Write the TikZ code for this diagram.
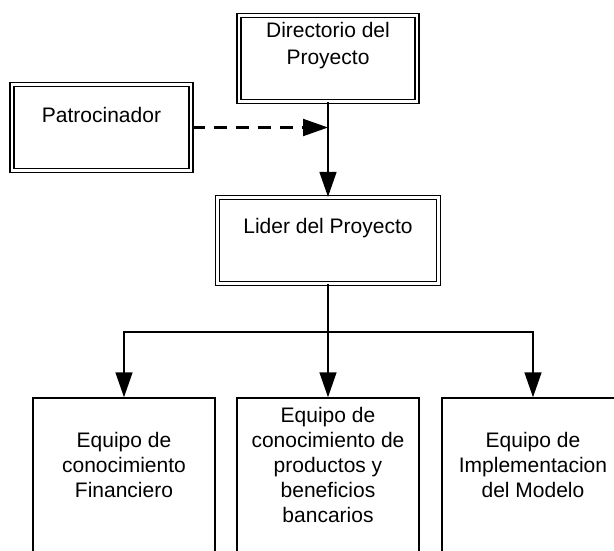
\documentclass[tikz,border=0pt]{standalone}
\usepackage{fontspec}
\setmainfont{Liberation Sans}
\usetikzlibrary{arrows.meta,positioning,calc}
\tikzset{
  mainbox/.style={draw=black,line width=1.3pt,double=white,double distance=2.7pt,
    minimum height=86pt,inner sep=0pt},
  teambox/.style={draw=black,fill=white,line width=1.5pt,minimum width=182pt,
    minimum height=158pt,inner sep=0pt},
  boxtext/.style={font=\fontsize{21}{25}\selectfont,align=center,yshift=12.5pt},
  flowarrow/.style={-{Triangle[length=25pt,width=17pt]},line width=1.6pt},
  dasharrow/.style={flowarrow,line width=2.1pt,dash pattern=on 13pt off 9pt}
}

\begin{document}
\begin{tikzpicture}[x=1pt,y=-1pt]
  \useasboundingbox (0,0) rectangle (614,551);
  \clip (0,0) rectangle (614,551);
  \fill[white] (0,0) rectangle (614,551);
  % upper part
  \node[mainbox,minimum width=178pt,
    label={[boxtext,font=\fontsize{21}{27}\selectfont]center:Directorio del\\Proyecto}] (director) at (328,58.5) {};
  \node[mainbox,minimum width=179pt,
    label={[boxtext]center:Patrocinador}] (patro) at (101.5,127.5) {};
  \node[mainbox,minimum width=221pt,
    label={[boxtext]center:Lider del Proyecto}] (lider) at (328,240.5) {};
  % teams
  \node[teambox,label={[boxtext]center:Equipo de\\conocimiento\\Financiero}] (finan) at (124,477) {};
  \node[teambox,label={[boxtext]center:Equipo de\\conocimiento de\\productos y\\beneficios\\bancarios}] (banca) at (328,477) {};
  \node[teambox,label={[boxtext]center:Equipo de\\Implementacion\\del Modelo}] (modelo) at (533,477) {};
  \coordinate (meet) at (director.south |- patro.east);
  \coordinate (bus) at (328,332);
  \draw[flowarrow] (director.south) -- (lider.north);
  \draw[dasharrow] (patro.east) -- (meet);
  \draw[line width=1.6pt] (lider.south) -- (bus);
  \draw[flowarrow] (bus) -| (finan.north);
  \draw[flowarrow] (bus) -- (banca.north);
  \draw[flowarrow] (bus) -| (modelo.north);
\end{tikzpicture}
\end{document}
